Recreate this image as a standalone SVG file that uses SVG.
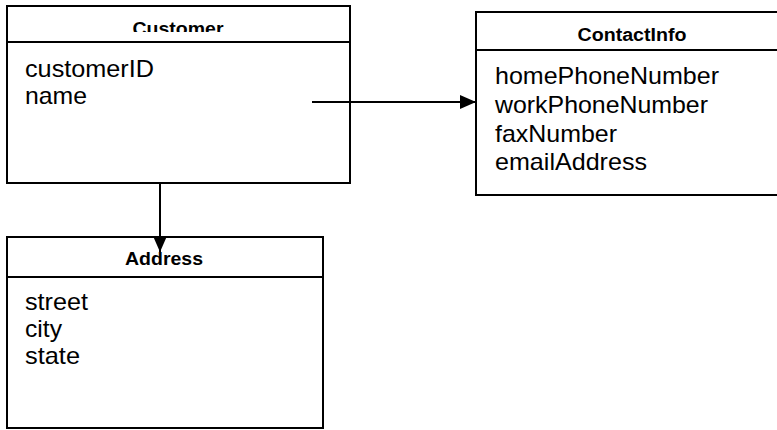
<svg xmlns="http://www.w3.org/2000/svg" width="777" height="430" viewBox="0 0 777 430">
<style>
.box{fill:#fff;stroke:#000;stroke-width:2}
.div{stroke:#000;stroke-width:2}
.t{font-family:"Liberation Sans",Arial,sans-serif;font-weight:bold;font-size:18px;fill:#000;text-anchor:middle}
.a{font-family:"Liberation Sans",Arial,sans-serif;font-size:24px;fill:#000}
.c{stroke:#000;stroke-width:2;fill:none}
</style>
<defs>
<clipPath id="clipCust"><rect x="0" y="0" width="777" height="32"/></clipPath>
<marker id="arr" viewBox="0 0 16 14" refX="16" refY="7" markerWidth="16" markerHeight="14" markerUnits="userSpaceOnUse" orient="auto"><path d="M0,0 L16,7 L0,14 Z" fill="#000"/></marker>
</defs>
<rect width="777" height="430" fill="#fff"/>
<g id="customer">
<rect class="box" x="7" y="6" width="343" height="177"/>
<line class="div" x1="7" y1="42" x2="350" y2="42"/>
<text class="t" x="178" y="35" clip-path="url(#clipCust)" textLength="91" lengthAdjust="spacingAndGlyphs">Customer</text>
<text class="a" x="25" y="77" textLength="129" lengthAdjust="spacingAndGlyphs">customerID</text>
<text class="a" x="25" y="104" textLength="62" lengthAdjust="spacingAndGlyphs">name</text>
</g>
<g id="contactinfo">
<rect class="box" x="476" y="12" width="310" height="183"/>
<line class="div" x1="476" y1="50" x2="777" y2="50"/>
<text class="t" x="632" y="41" textLength="109" lengthAdjust="spacingAndGlyphs">ContactInfo</text>
<text class="a" x="495" y="84" textLength="224" lengthAdjust="spacingAndGlyphs">homePhoneNumber</text>
<text class="a" x="495" y="113" textLength="213" lengthAdjust="spacingAndGlyphs">workPhoneNumber</text>
<text class="a" x="495" y="142" textLength="122" lengthAdjust="spacingAndGlyphs">faxNumber</text>
<text class="a" x="495" y="170" textLength="152" lengthAdjust="spacingAndGlyphs">emailAddress</text>
</g>
<g id="address">
<rect class="box" x="7" y="237" width="316" height="191"/>
<line class="div" x1="7" y1="277" x2="323" y2="277"/>
<text class="t" x="164" y="265" textLength="78" lengthAdjust="spacingAndGlyphs">Address</text>
<text class="a" x="25" y="310" textLength="63" lengthAdjust="spacingAndGlyphs">street</text>
<text class="a" x="25" y="337" textLength="37" lengthAdjust="spacingAndGlyphs">city</text>
<text class="a" x="25" y="364" textLength="55" lengthAdjust="spacingAndGlyphs">state</text>
</g>
<g id="connectors">
<line class="c" x1="160" y1="183" x2="160" y2="252" marker-end="url(#arr)"/>
<line class="c" x1="312" y1="102" x2="476" y2="102" marker-end="url(#arr)"/>
</g>
</svg>
